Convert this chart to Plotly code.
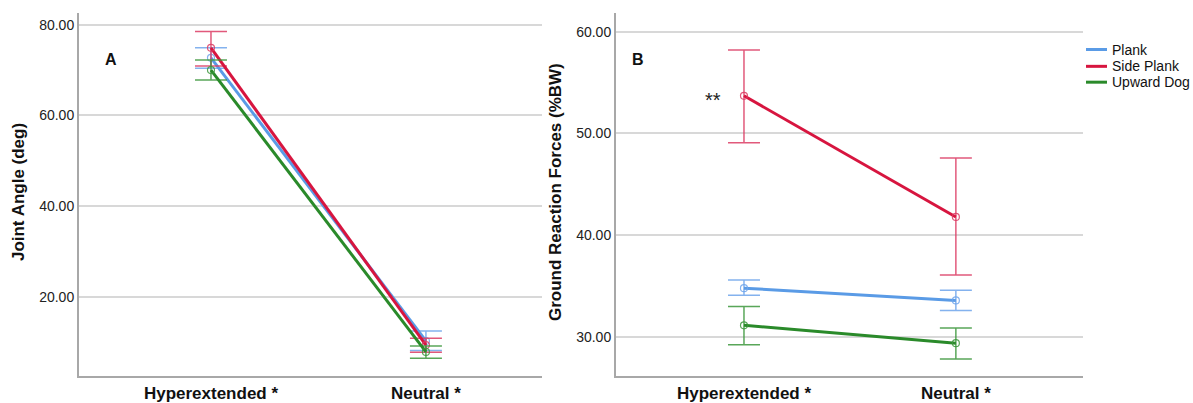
import plotly.graph_objects as go

categories = ["Hyperextended *", "Neutral *"]
series = ["Plank", "Side Plank", "Upward Dog"]

# Panel A: Joint Angle (deg) - means and 95% CI bounds
angle_mean = {"Plank": [72.7, 10.3], "Side Plank": [74.9, 9.4], "Upward Dog": [70.0, 7.9]}
angle_low = {"Plank": [70.4, 8.2], "Side Plank": [70.9, 7.85], "Upward Dog": [67.8, 6.5]}
angle_high = {"Plank": [74.9, 12.5], "Side Plank": [78.5, 10.9], "Upward Dog": [72.2, 9.2]}

# Panel B: Ground Reaction Forces (%BW)
grf_mean = {"Plank": [34.8, 33.6], "Side Plank": [53.7, 41.8], "Upward Dog": [31.15, 29.4]}
grf_low = {"Plank": [34.1, 32.6], "Side Plank": [49.1, 36.1], "Upward Dog": [29.25, 27.85]}
grf_high = {"Plank": [35.6, 34.6], "Side Plank": [58.2, 47.6], "Upward Dog": [33.0, 30.9]}

angle_ticks = [20, 40, 60, 80]
grf_ticks = [30, 40, 50, 60]

line_colors = {"Plank": "#5a9be6", "Side Plank": "#d7153f", "Upward Dog": "#2a8a2a"}
bar_colors = {"Plank": "rgba(110,165,235,0.85)", "Side Plank": "rgba(220,60,100,0.85)",
              "Upward Dog": "rgba(60,150,60,0.85)"}

W, H = 1193, 403
def px_x(p): return p / W
def px_y(p): return 1 - p / H

fig = go.Figure()

def add_panel(means, lows, highs, xa, ya):
    for s in series:
        m = means[s]
        plus = [h - v for h, v in zip(highs[s], m)]
        minus = [v - l for l, v in zip(lows[s], m)]
        fig.add_trace(go.Scatter(
            x=categories, y=m, mode="lines+markers", xaxis=xa, yaxis=ya,
            line=dict(color=line_colors[s], width=3),
            marker=dict(symbol="circle-open", size=7, color=bar_colors[s], line=dict(width=1.2)),
            error_y=dict(type="data", symmetric=False, array=plus, arrayminus=minus,
                         color=bar_colors[s], thickness=1.5, width=16),
            showlegend=False, hoverinfo="skip"))

add_panel(angle_mean, angle_low, angle_high, "x", "y")
add_panel(grf_mean, grf_low, grf_high, "x2", "y2")

ydom = [px_y(380), px_y(13)]
common_x = dict(type="category", showline=True, linecolor="#a8a8a8", linewidth=2,
                showgrid=False, ticks="", zeroline=False,
                tickfont=dict(family="Arial", size=17, color="#111", weight="bold"))
common_y = dict(showline=True, linecolor="#a8a8a8", linewidth=2, showgrid=True,
                gridcolor="#d8d8d8", gridwidth=1.5, zeroline=False, ticks="",
                tickformat=".2f", tickfont=dict(family="Arial", size=14, color="#222"))

fig.update_layout(
    width=W, height=H, margin=dict(l=0, r=0, t=0, b=0),
    plot_bgcolor="white", paper_bgcolor="white", showlegend=False,
    xaxis=dict(domain=[px_x(79), px_x(542)], range=[-0.614, 1.54], anchor="y", **common_x),
    yaxis=dict(domain=ydom, range=[2.54, 82.6], tickvals=angle_ticks, anchor="x", **common_y),
    xaxis2=dict(domain=[px_x(616), px_x(1083)], range=[-0.604, 1.6], anchor="y2", **common_x),
    yaxis2=dict(domain=ydom, range=[26.15, 61.85], tickvals=grf_ticks, anchor="x2", **common_y),
)

def ann(x, y, text, font, angle=0, xanchor="center"):
    fig.add_annotation(x=px_x(x), y=px_y(y), xref="paper", yref="paper", text=text,
                       textangle=angle, showarrow=False, font=font,
                       xanchor=xanchor, yanchor="middle")

title_font = dict(family="Arial", size=17, color="#111", weight="bold")
ann(18, 194, "Joint Angle (deg)", title_font, angle=-90)
ann(555, 194, "Ground Reaction Forces (%BW)", title_font, angle=-90)
ann(111, 60, "A", dict(family="Arial", size=16, color="#111", weight="bold"))
ann(638, 60, "B", dict(family="Arial", size=16, color="#111", weight="bold"))
ann(713, 101, "**", dict(family="Arial", size=20, color="#222"))

# Legend (manual, compact spacing like the reference)
legend_rows = [50, 67, 83]
for s, yy in zip(series, legend_rows):
    fig.add_shape(type="line", xref="paper", yref="paper",
                  x0=px_x(1086), x1=px_x(1107), y0=px_y(yy), y1=px_y(yy),
                  line=dict(color=line_colors[s], width=3))
    ann(1110, yy, s, dict(family="Arial", size=14, color="#111"), xanchor="left")

fig.write_html("out.html", post_script="document.body.style.margin='0';",
               config={"displayModeBar": False})
